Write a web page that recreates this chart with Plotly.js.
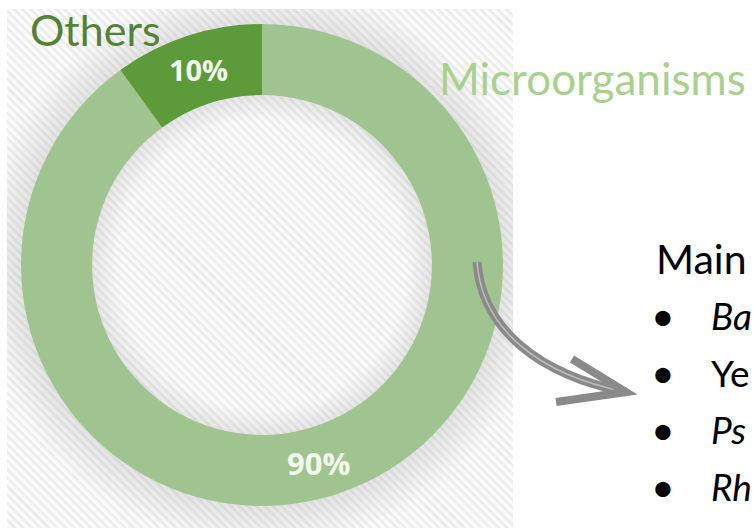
<!DOCTYPE html>
<html>
<head>
<meta charset="utf-8">
<script src="https://cdn.plot.ly/plotly-3.0.1.min.js"></script>
<style>html,body{margin:0;padding:0;background:#fff;}#chart{width:754px;height:528px;}</style>
</head>
<body>
<div id="chart"></div>
<script>
// ---- data ----
var labels = ['Microorganisms', 'Others'];
var values = [90, 10];
var sliceColors = ['#a0c48f', '#5c9a3a'];
var labelColors = ['#a9d18e', '#548235'];
var listTitle = 'Main';
var listItems = ['<i>Ba</i>', 'Ye', '<i>Ps</i>', '<i>Rh</i>'];

var W = 754, H = 528;
function px(x) { return x / W; }
function py(y) { return 1 - y / H; }
function P(x, y) { return px(x) + ',' + py(y); }

// hatched background with soft shadow around the ring (decorative)
var bgX = 7, bgY = 9, bgW = 506, bgH = 519;
var cx = 262 - bgX, cy = 265 - bgY;
var svg = '<svg xmlns="http://www.w3.org/2000/svg" width="' + bgW + '" height="' + bgH + '" viewBox="0 0 ' + bgW + ' ' + bgH + '">' +
  '<defs>' +
  '<pattern id="p" patternUnits="userSpaceOnUse" width="6" height="6" patternTransform="rotate(45)">' +
  '<rect width="6" height="6" fill="#fbfbfb"/><rect width="6" height="2.6" fill="#ebebeb"/></pattern>' +
  '<radialGradient id="g" gradientUnits="userSpaceOnUse" cx="' + cx + '" cy="' + cy + '" r="290">' +
  '<stop offset="0" stop-color="#8a8a8a" stop-opacity="0"/>' +
  '<stop offset="0.50" stop-color="#8a8a8a" stop-opacity="0"/>' +
  '<stop offset="0.586" stop-color="#8a8a8a" stop-opacity="0.18"/>' +
  '<stop offset="0.83" stop-color="#8a8a8a" stop-opacity="0.2"/>' +
  '<stop offset="0.97" stop-color="#8a8a8a" stop-opacity="0"/>' +
  '</radialGradient></defs>' +
  '<rect width="' + bgW + '" height="' + bgH + '" fill="url(#p)"/>' +
  '<rect width="' + bgW + '" height="' + bgH + '" fill="url(#g)"/>' +
  '</svg>';
var bgSrc = 'data:image/svg+xml;base64,' + btoa(svg);

var total = values.reduce(function (a, b) { return a + b; }, 0);
var pctText = values.map(function (v) { return Math.round(v / total * 100) + '%'; });
var pctFont = { family: 'Open Sans, sans-serif', size: 31, color: '#f3f9ef', weight: 'bold' };

var trace = {
  type: 'pie',
  labels: labels,
  values: values,
  sort: false,
  direction: 'clockwise',
  rotation: 0,
  hole: 0.705,
  marker: { colors: sliceColors, line: { width: 0 } },
  textinfo: 'percent',
  textposition: ['none', 'inside'],
  insidetextorientation: 'horizontal',
  insidetextfont: pctFont,
  domain: { x: [px(262 - 241), px(262 + 241)], y: [py(265 + 241), py(265 - 241)] },
  showlegend: false,
  hoverinfo: 'none'
};

var font = 'Lato, "Open Sans", sans-serif';
var annotations = [
  { text: pctText[0], x: px(318), y: py(463), xanchor: 'center', yanchor: 'middle', font: pctFont },
  { text: labels[1], x: px(28), y: py(30), xanchor: 'left', yanchor: 'middle', font: { family: font, size: 43, color: labelColors[1] } },
  { text: labels[0], x: px(437), y: py(78), xanchor: 'left', yanchor: 'middle', font: { family: font, size: 44, color: labelColors[0] } },
  { text: listTitle, x: px(654), y: py(258), xanchor: 'left', yanchor: 'middle', font: { family: font, size: 41, color: '#000' } }
];
var rowY = [315, 372, 429, 486];
listItems.forEach(function (t, i) {
  annotations.push({ text: '•', x: px(663), y: py(rowY[i]), xanchor: 'center', yanchor: 'middle', font: { family: font, size: 41, color: '#000' } });
  annotations.push({ text: t, x: px(709), y: py(rowY[i]), xanchor: 'left', yanchor: 'middle', font: { family: font, size: 37, color: '#000' } });
});
annotations.forEach(function (a) { a.xref = 'paper'; a.yref = 'paper'; a.showarrow = false; });

var shaft = 'M' + P(477, 262) + ' C' + P(482, 330) + ' ' + P(540, 375) + ' ' + P(626, 392);
var head = 'M' + P(572, 359) + ' L' + P(626, 392) + ' L' + P(556, 402);
var shapes = [
  { type: 'path', path: shaft, xref: 'paper', yref: 'paper', line: { color: '#8a8a8a', width: 9 }, layer: 'above' },
  { type: 'path', path: shaft, xref: 'paper', yref: 'paper', line: { color: '#bdbdbd', width: 1.5 }, layer: 'above' },
  { type: 'path', path: head, xref: 'paper', yref: 'paper', line: { color: '#8a8a8a', width: 8 }, layer: 'above' }
];

var layout = {
  width: W, height: H,
  margin: { l: 0, r: 0, t: 0, b: 0 },
  paper_bgcolor: '#ffffff',
  plot_bgcolor: '#ffffff',
  showlegend: false,
  images: [{ source: bgSrc, xref: 'paper', yref: 'paper', x: px(bgX), y: py(bgY), sizex: bgW / W, sizey: bgH / H, sizing: 'stretch', xanchor: 'left', yanchor: 'top', layer: 'below' }],
  annotations: annotations,
  shapes: shapes
};

Plotly.newPlot('chart', [trace], layout, { displayModeBar: false, staticPlot: true });
</script>
</body>
</html>
